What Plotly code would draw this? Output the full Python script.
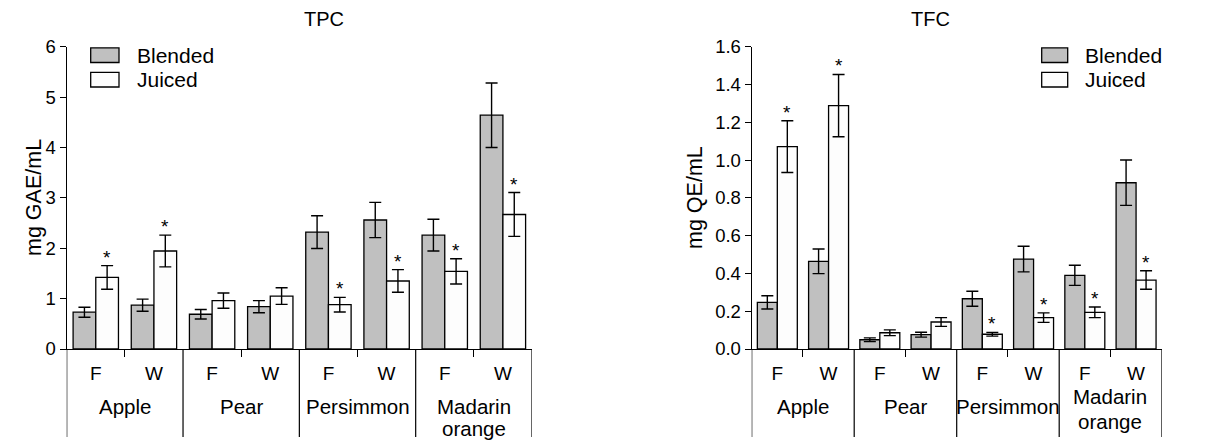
import plotly.graph_objects as go

# ---------------- data ----------------
fruits = ["Apple", "Pear", "Persimmon", "Madarin orange"]
sub_labels = ["F", "W", "F", "W", "F", "W", "F", "W"]
positions = [0.5, 1.5, 2.5, 3.5, 4.5, 5.5, 6.5, 7.5]

tpc_blended = [0.73, 0.87, 0.69, 0.84, 2.32, 2.56, 2.26, 4.64]
tpc_blended_err = [0.10, 0.12, 0.095, 0.12, 0.325, 0.35, 0.315, 0.64]
tpc_juiced = [1.42, 1.945, 0.96, 1.05, 0.88, 1.35, 1.54, 2.67]
tpc_juiced_err = [0.235, 0.315, 0.15, 0.165, 0.145, 0.225, 0.25, 0.435]

tfc_blended = [0.247, 0.464, 0.049, 0.076, 0.266, 0.476, 0.39, 0.88]
tfc_blended_err = [0.035, 0.065, 0.01, 0.013, 0.04, 0.068, 0.053, 0.12]
tfc_juiced = [1.071, 1.288, 0.086, 0.143, 0.078, 0.166, 0.194, 0.365]
tfc_juiced_err = [0.137, 0.165, 0.015, 0.023, 0.01, 0.025, 0.028, 0.049]

significant = [True, True, False, False, True, True, True, True]

tpc_ticks = [0, 1, 2, 3, 4, 5, 6]
tpc_ticktext = ["0", "1", "2", "3", "4", "5", "6"]
tfc_ticks = [0, 0.2, 0.4, 0.6, 0.8, 1.0, 1.2, 1.4, 1.6]
tfc_ticktext = ["0.0", "0.2", "0.4", "0.6", "0.8", "1.0", "1.2", "1.4", "1.6"]

series_names = ["Blended", "Juiced"]
# --------------------------------------

W, H = 1216, 441
FONT = "Liberation Sans, Arial, Helvetica, sans-serif"
GREY = "#c0c0c0"
WHITE = "#fdfdfd"
BW = 0.39


def px_x(p):
    return p / W


def px_y(p):
    return 1 - p / H


fig = go.Figure()

panels = [
    dict(xa="x", ya="y", bl=tpc_blended, ble=tpc_blended_err, ju=tpc_juiced, jue=tpc_juiced_err),
    dict(xa="x2", ya="y2", bl=tfc_blended, ble=tfc_blended_err, ju=tfc_juiced, jue=tfc_juiced_err),
]

for p in panels:
    fig.add_trace(go.Bar(
        x=positions, y=p["bl"], xaxis=p["xa"], yaxis=p["ya"], name=series_names[0],
        offset=-BW, width=BW, marker=dict(color=GREY, line=dict(color="black", width=1.3)),
        error_y=dict(type="data", array=p["ble"], color="black", thickness=1.4, width=6),
        showlegend=False))
    fig.add_trace(go.Bar(
        x=positions, y=p["ju"], xaxis=p["xa"], yaxis=p["ya"], name=series_names[1],
        offset=0, width=BW, marker=dict(color=WHITE, line=dict(color="black", width=1.3)),
        error_y=dict(type="data", array=p["jue"], color="black", thickness=1.4, width=6),
        showlegend=False))

annotations = []
shapes = []

# significance stars
for p in panels:
    for i, sig in enumerate(significant):
        if sig:
            annotations.append(dict(
                x=positions[i] + BW / 2, y=p["ju"][i] + p["jue"][i], xref=p["xa"], yref=p["ya"],
                text="*", showarrow=False, yanchor="bottom", yshift=-4,
                font=dict(family=FONT, size=19, color="black")))

# geometry (pixels)
y_top, y_bot = 46.7, 349.0
doms = [(66.7, 532.0), (751.7, 1161.7)]
ydom = [px_y(y_bot), px_y(y_top)]
# vertical centres of label lines (single line / two-line) per panel
label_lines = [{1: [406.0], 2: [406.7, 428.0]}, {1: [406.0], 2: [396.7, 421.7]}]

axis_common = dict(showgrid=False, zeroline=False, showline=True, linecolor="black", linewidth=1.3,
                   automargin=False)

for k, (x0, x1) in enumerate(doms):
    sfx = "" if k == 0 else "2"
    fig.update_layout(**{
        f"xaxis{sfx}": dict(
            domain=[px_x(x0), px_x(x1)], range=[0, 8], anchor=f"y{sfx}",
            tickvals=positions, ticktext=sub_labels, ticks="",
            tickfont=dict(family=FONT, size=19, color="black"), ticklabelstandoff=7,
            minor=dict(tickvals=[1, 3, 5, 7], ticks="outside", ticklen=7, tickcolor="black", tickwidth=1.2),
            fixedrange=True, **axis_common),
        f"yaxis{sfx}": dict(
            domain=ydom, range=[0, 6] if k == 0 else [0, 1.6], anchor=f"x{sfx}",
            tickvals=tpc_ticks if k == 0 else tfc_ticks,
            ticktext=tpc_ticktext if k == 0 else tfc_ticktext,
            ticks="outside", ticklen=6, tickcolor="black", tickwidth=1.2,
            tickfont=dict(family=FONT, size=18.5, color="black"),
            fixedrange=True, **axis_common),
    })
    xref = "x" if k == 0 else "x2"
    # group dividers
    for d in [0, 2, 4, 6, 8]:
        shapes.append(dict(type="line", xref=xref, yref="paper", x0=d, x1=d,
                           y0=px_y(y_bot), y1=px_y(437), line=dict(color="black", width=1.2)))
    # fruit labels
    for g, name in enumerate(fruits):
        words = name.split(" ")
        ys = label_lines[k][len(words)]
        for word, ypix in zip(words, ys):
            annotations.append(dict(x=2 * g + 1, y=px_y(ypix), xref=xref, yref="paper", text=word,
                                    showarrow=False, yanchor="middle",
                                    font=dict(family=FONT, size=20.5, color="black")))

# titles
annotations.append(dict(x=px_x(302), y=px_y(19), xref="paper", yref="paper", text="TPC",
                        yanchor="middle", showarrow=False, font=dict(family=FONT, size=20, color="black")))
annotations.append(dict(x=px_x(952), y=px_y(19), xref="paper", yref="paper", text="TFC",
                        yanchor="middle", showarrow=False, font=dict(family=FONT, size=20, color="black")))
# y-axis titles
annotations.append(dict(x=px_x(20), y=px_y(198), xref="paper", yref="paper", text="mg GAE/mL",
                        textangle=-90, showarrow=False, font=dict(family=FONT, size=21.5, color="black")))
annotations.append(dict(x=px_x(695), y=px_y(198), xref="paper", yref="paper", text="mg QE/mL",
                        textangle=-90, showarrow=False, font=dict(family=FONT, size=21.5, color="black")))

# legends
legends = [(90.7, 119.0, 135.0), (1041.7, 1067.7, 1082.7)]
for (bx0, bx1, tx) in legends:
    for j, (nm, col) in enumerate(zip(series_names, [GREY, WHITE])):
        yc = 55.2 + 24.5 * j
        shapes.append(dict(type="rect", xref="paper", yref="paper",
                           x0=px_x(bx0), x1=px_x(bx1), y0=px_y(yc + 7.3), y1=px_y(yc - 7.3),
                           fillcolor=col, line=dict(color="black", width=1.3)))
        annotations.append(dict(x=px_x(tx), y=px_y(yc), xref="paper", yref="paper", text=nm,
                                xanchor="left", yanchor="middle", showarrow=False,
                                font=dict(family=FONT, size=21, color="black")))

fig.update_layout(
    width=W, height=H, margin=dict(l=0, r=0, t=0, b=0, pad=0, autoexpand=False),
    paper_bgcolor="white", plot_bgcolor="white",
    barmode="overlay", annotations=annotations, shapes=shapes,
    font=dict(family=FONT, color="black"),
)

fig.write_html(
    "out.html",
    config={"displayModeBar": False},
    post_script="document.body.style.margin='0';document.body.style.overflow='hidden';",
)
